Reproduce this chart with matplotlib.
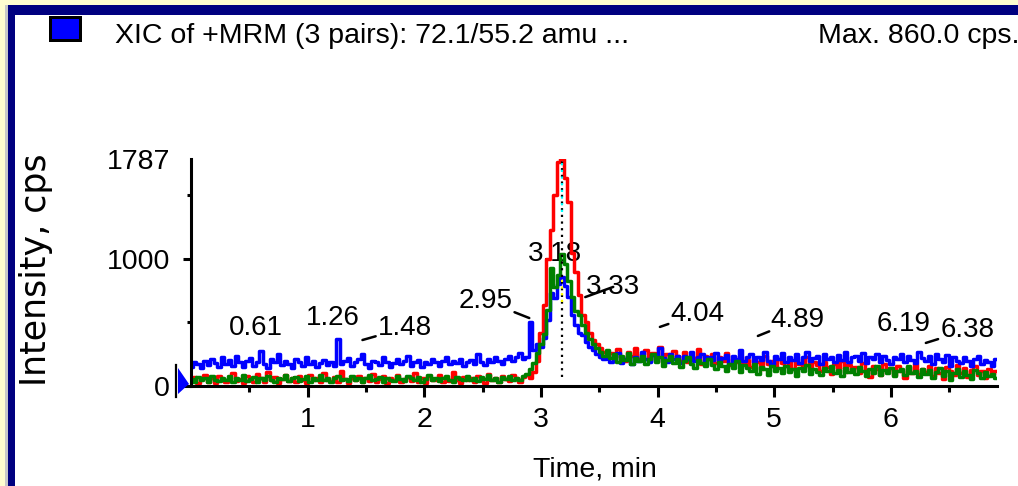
import numpy as np
import matplotlib
matplotlib.use("Agg")
import matplotlib.pyplot as plt
from matplotlib.patches import Rectangle, Polygon
from matplotlib.lines import Line2D

# ---------------- data ----------------
time_step = 0.03
n_points = 231
time_min = np.round(np.arange(n_points) * time_step, 2)

blue_cps = [
    150, 190, 175, 140, 200, 165, 210, 180, 150, 230,
    170, 205, 160, 240, 185, 150, 195, 220, 160, 185,
    275, 170, 140, 215, 190, 250, 165, 200, 175, 145,
    210, 185, 160, 230, 175, 195, 150, 180, 205, 165,
    190, 155, 370, 170, 200, 220, 160, 185, 210, 255,
    175, 145, 200, 185, 165, 225, 190, 150, 180, 210,
    170, 195, 240, 160, 185, 205, 150, 190, 175, 215,
    185, 160, 200, 230, 170, 195, 180, 215, 160, 190,
    205, 175, 250, 190, 165, 210, 185, 225, 200, 170,
    215, 240, 195, 225, 260, 210, 230, 500, 280, 330,
    310, 380, 520, 730, 690, 800, 860, 790, 700, 560,
    480, 420, 400, 350, 310, 280, 250, 230, 210, 240,
    190, 225, 260, 180, 215, 240, 170, 230, 200, 265,
    210, 185, 245, 200, 300, 220, 190, 255, 210, 235,
    180, 240, 215, 265, 195, 225, 250, 175, 230, 205,
    260, 190, 220, 245, 170, 235, 210, 280, 195, 225,
    250, 185, 230, 205, 270, 200, 175, 240, 215, 260,
    190, 230, 205, 250, 180, 225, 265, 195, 220, 240,
    175, 255, 210, 230, 190, 245, 205, 270, 185, 225,
    240, 200, 260, 180, 225, 210, 250, 190, 235, 205,
    170, 230, 215, 255, 190, 240, 205, 180, 265, 220,
    195, 235, 175, 250, 210, 190, 245, 160, 225, 200,
    180, 230, 195, 155, 215, 240, 170, 205, 185, 160, 210,
]

red_cps = [
    40, 70, 25, 55, 90, 35, 60, 20, 75, 45,
    30, 65, 100, 40, 55, 25, 80, 50, 35, 95,
    60, 30, 110, 45, 70, 25, 55, 85, 40, 60,
    35, 75, 50, 20, 90, 45, 65, 30, 105, 50,
    40, 70, 30, 115, 55, 25, 60, 45, 80, 35,
    65, 40, 95, 30, 55, 75, 25, 60, 45, 85,
    30, 55, 70, 40, 100, 35, 60, 25, 75, 50,
    45, 85, 30, 60, 40, 110, 50, 25, 70, 45,
    60, 35, 80, 50, 25, 95, 45, 65, 30, 75,
    55, 40, 90, 60, 35, 70, 85, 60, 110, 200,
    420, 640, 1000, 1230, 1500, 1760, 1787, 1640, 1450, 1050,
    900, 720, 560, 500, 420, 360, 330, 300, 270, 240,
    260, 210, 290, 230, 195, 270, 240, 300, 215, 250,
    280, 205, 260, 230, 310, 190, 255, 220, 275, 240,
    200, 265, 185, 240, 220, 290, 170, 235, 210, 250,
    180, 225, 200, 260, 165, 215, 190, 240, 175, 205,
    150, 220, 185, 130, 240, 170, 200, 145, 215, 180,
    160, 195, 130, 210, 175, 150, 225, 140, 185, 165,
    120, 190, 150, 95, 175, 140, 200, 110, 165, 130,
    150, 100, 180, 125, 70, 160, 135, 90, 175, 115,
    140, 85, 160, 120, 60, 150, 105, 175, 95, 130,
    110, 160, 80, 140, 100, 55, 150, 120, 90, 165,
    105, 140, 70, 125, 160, 85, 115, 60, 135, 95, 120,
]

green_cps = [
    55, 35, 70, 45, 60, 30, 80, 50, 40, 65,
    45, 75, 35, 60, 50, 85, 40, 55, 70, 30,
    60, 45, 80, 50, 35, 65, 55, 90, 40, 60,
    70, 40, 55, 75, 30, 60, 50, 85, 45, 65,
    35, 60, 75, 45, 55, 40, 80, 50, 65, 35,
    60, 90, 45, 55, 70, 35, 65, 50, 40, 75,
    55, 40, 80, 60, 45, 70, 35, 55, 85, 50,
    65, 40, 60, 75, 50, 35, 70, 55, 45, 80,
    50, 60, 40, 70, 55, 85, 45, 60, 35, 70,
    55, 75, 45, 60, 50, 80, 95, 130, 180, 260,
    330, 410, 600, 930, 780, 870, 1040, 960, 830, 700,
    590, 560, 480, 420, 370, 330, 300, 270, 240, 280,
    220, 250, 190, 235, 205, 260, 175, 220, 195, 240,
    170, 215, 250, 185, 225, 160, 205, 240, 180, 210,
    150, 195, 230, 170, 140, 205, 180, 155, 215, 165,
    130, 185, 160, 120, 175, 145, 195, 110, 165, 140,
    120, 170, 95, 150, 130, 85, 160, 115, 140, 100,
    155, 110, 130, 80, 145, 120, 165, 95, 135, 110,
    85, 140, 115, 160, 100, 125, 75, 145, 110, 130,
    95, 150, 120, 80, 135, 105, 160, 90, 125, 100,
    140, 75, 115, 130, 90, 155, 100, 120, 70, 135,
    95, 125, 60, 110, 140, 80, 120, 50, 105, 130,
    70, 115, 90, 55, 125, 100, 65, 110, 80, 95, 60,
]

# peak annotations: label text, label anchor (time, cps), leader end (time, cps) or None
peak_labels = ["0.61", "1.26", "1.48", "2.95", "3.18", "3.33", "4.04", "4.89", "6.19", "6.38"]
label_t = [0.557, 1.218, 1.835, 2.53, 3.12, 3.62, 4.34, 5.20, 6.11, 6.655]
label_y = [457, 535, 457, 669, 1039, 780, 567, 520, 488, 441]
leader_t = [None, None, 1.47, 2.90, None, 3.38, 4.02, 4.86, None, 6.30]
leader_y = [None, None, 362, 535, None, 700, 465, 394, None, 339]

apex_time = 3.18
apex_cps = 1787
y_top = 1787
x_max = 6.91
x_major = [1, 2, 3, 4, 5, 6]
x_minor = [0.5, 1.5, 2.5, 3.5, 4.5, 5.5, 6.5]
y_major = [0, 1000, 1787]
y_minor = [500, 1500]

title_text = "XIC of +MRM (3 pairs): 72.1/55.2 amu ..."
max_text = "Max. 860.0 cps."
x_label = "Time, min"
y_label = "Intensity, cps"

# ---------------- figure ----------------
W, H = 1018, 486
fig = plt.figure(figsize=(W / 100, H / 100), dpi=100)
fig.patch.set_facecolor("white")

NUM_FONT = ["Liberation Sans", "DejaVu Sans"]


def px_rect(x0, y0, x1, y1, color, **kw):
    r = Rectangle((x0 / W, 1 - y1 / H), (x1 - x0) / W, (y1 - y0) / H,
                  transform=fig.transFigure, facecolor=color, edgecolor="none", **kw)
    fig.add_artist(r)
    return r


# window frame
px_rect(0, 0, W, 5, "#FFFDD0")
px_rect(0, 0, 5, H, "#FFFDD0")
px_rect(5, 5, 8, H, "#C8C8C8")
px_rect(8, 5, W, 15, "#000080")
px_rect(8, 5, 15, H, "#000080")

# legend swatch
px_rect(49, 16, 82, 42, "black")
px_rect(52, 19, 79, 39, "#0000FF")

fig.text(115 / W, 1 - 43 / H, title_text, fontsize=20.5, family=NUM_FONT,
         ha="left", va="baseline", color="black")
fig.text(818 / W, 1 - 43 / H, max_text, fontsize=20.5, family=NUM_FONT,
         ha="left", va="baseline", color="black")
fig.text(36 / W, 1 - 270 / H, y_label, fontsize=25, family=["DejaVu Sans"],
         rotation=90, ha="center", va="center", color="black")
fig.text(595 / W, 1 - 476 / H, x_label, fontsize=20.5, family=NUM_FONT,
         ha="center", va="baseline", color="black")

ax_left, ax_right, ax_bottom, ax_top = 191, 997, 386, 159
ax = fig.add_axes([ax_left / W, 1 - ax_bottom / H, (ax_right - ax_left) / W,
                   (ax_bottom - ax_top) / H])
ax.set_xlim(0, x_max)
ax.set_ylim(0, y_top)
ax.set_facecolor("none")
for s in ["top", "right"]:
    ax.spines[s].set_visible(False)
for s in ["left", "bottom"]:
    ax.spines[s].set_linewidth(2.2)
    ax.spines[s].set_color("black")
    ax.spines[s].set_zorder(6)

ax.set_xticks(x_major)
ax.set_xticklabels([str(v) for v in x_major])
ax.set_xticks(x_minor, minor=True)
ax.set_yticks(y_major)
ax.set_yticklabels([str(v) for v in y_major])
ax.set_yticks(y_minor, minor=True)
ax.tick_params(axis="x", which="major", length=8, width=2.2, pad=7, labelsize=20.5)
ax.tick_params(axis="x", which="minor", length=4, width=2.2)
ax.tick_params(axis="y", which="major", length=6, width=2.2, pad=9, labelsize=20.5)
ax.tick_params(axis="y", which="minor", length=3, width=2.2)
for lab in ax.get_xticklabels() + ax.get_yticklabels():
    lab.set_family(NUM_FONT)
ax.yaxis.get_major_ticks()[2].tick1line.set_visible(False)

# traces
ax.plot(time_min, red_cps, color="#FF0000", lw=2.5, drawstyle="steps-mid", zorder=3)
ax.plot(time_min, blue_cps, color="#0000FF", lw=2.5, drawstyle="steps-mid", zorder=4)
ax.plot(time_min, green_cps, color="#008000", lw=2.5, drawstyle="steps-mid", zorder=4.5)

# apex marker (dotted vertical line)
ax.plot([apex_time, apex_time], [70, apex_cps], color="black", lw=1.6,
        ls=(0, (1, 2)), zorder=5)
ax.plot([apex_time, apex_time], [1370, apex_cps], color="#00FFFF", lw=1.6,
        ls=(0, (1, 2)), zorder=5.1)
ax.plot([apex_time, apex_time], [660, 850], color="#FFFF00", lw=1.6,
        ls=(0, (1, 2)), zorder=5.1)

# peak labels
for txt, tx, ty, lx, ly in zip(peak_labels, label_t, label_y, leader_t, leader_y):
    ax.text(tx, ty, txt, fontsize=20, family=NUM_FONT, ha="center", va="center",
            zorder=2)
    if lx is not None:
        ax.annotate("", xy=(lx, ly), xytext=(tx, ty), zorder=2,
                    arrowprops=dict(arrowstyle="-", color="black", lw=1.8,
                                    shrinkA=22, shrinkB=0))

# start-of-trace marker left of the axis
fig.add_artist(Line2D([176 / W, 176 / W], [1 - 365 / H, 1 - 397 / H],
                      transform=fig.transFigure, color="black", lw=1.6))
fig.add_artist(Polygon([[178 / W, 1 - 368 / H], [178 / W, 1 - 394 / H],
                        [189 / W, 1 - 384 / H]], closed=True,
                       transform=fig.transFigure, facecolor="#0000FF",
                       edgecolor="none"))

fig.savefig("out.png", dpi=100, facecolor="white")
